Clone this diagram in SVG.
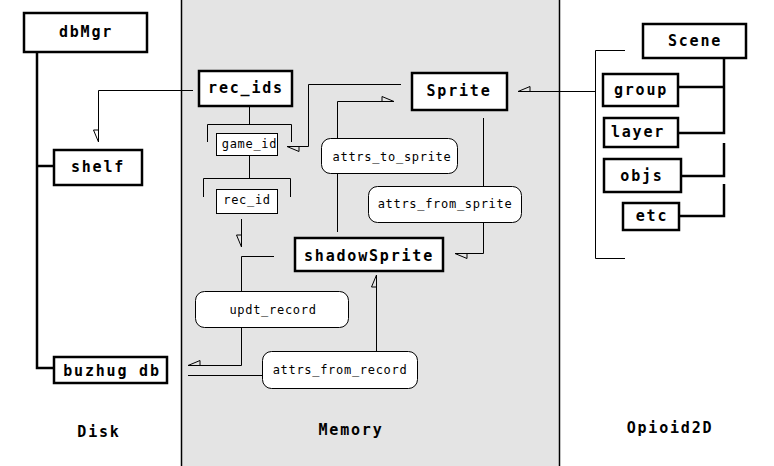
<svg xmlns="http://www.w3.org/2000/svg" width="774" height="466" viewBox="0 0 774 466">
<style>
.bg{fill:#e4e4e4;stroke:none}
.edge{stroke:#000;stroke-width:1.5;fill:none}
.box{fill:#fff;stroke:#000;stroke-width:2.5}
.sbox{fill:#fff;stroke:#000;stroke-width:1}
.rbox{fill:#fff;stroke:#000;stroke-width:1}
.ln{stroke:#000;stroke-width:1;fill:none}
.tk{stroke:#000;stroke-width:2.5;fill:none}
.b{font-family:"DejaVu Sans Mono","Liberation Mono",monospace;font-weight:bold;font-size:15px;letter-spacing:1.8px;text-anchor:middle;fill:#000}
.s{font-family:"DejaVu Sans Mono","Liberation Mono",monospace;font-size:12px;letter-spacing:0.7px;text-anchor:middle;fill:#000}
</style>
<defs>
<marker id="hp" markerUnits="userSpaceOnUse" markerWidth="14" markerHeight="14" viewBox="-13 -7 14 14" refX="0" refY="0" orient="auto" overflow="visible">
<path d="M0,0 L-12,0 L-12,5 Z" fill="none" stroke="#000" stroke-width="1"/>
</marker>
<marker id="hn" markerUnits="userSpaceOnUse" markerWidth="14" markerHeight="14" viewBox="-13 -7 14 14" refX="0" refY="0" orient="auto" overflow="visible">
<path d="M0,0 L-12,0 L-12,-5 Z" fill="none" stroke="#000" stroke-width="1"/>
</marker>
</defs>
<rect x="0" y="0" width="774" height="466" fill="#fff"/>
<rect class="bg" x="181" y="0" width="378" height="466"/>
<line class="edge" x1="181.5" y1="0" x2="181.5" y2="466"/>
<line class="edge" x1="559.5" y1="0" x2="559.5" y2="466"/>

<g id="connectors">
<path class="tk" d="M37,52 V368 H54"/>
<path class="tk" d="M37,166 H54"/>
<path class="ln" d="M193,90.5 H98.5 V142" marker-end="url(#hp)"/>
<path class="ln" d="M249.5,106 V124.5"/>
<path class="ln" d="M207.5,142 V124.5 H291.5 V142"/>
<path class="ln" d="M249.5,155 V178.5"/>
<path class="ln" d="M203.5,197 V178.5 H290.5 V197"/>
<path class="ln" d="M241.5,219 V247" marker-end="url(#hp)"/>
<path class="ln" d="M401,84.5 H308.5 V146.5 H287" marker-end="url(#hn)"/>
<path class="ln" d="M337.5,232 V101.5 H394" marker-end="url(#hn)"/>
<path class="ln" d="M483.5,118 V253.5 H455" marker-end="url(#hn)"/>
<path class="ln" d="M595,91.5 H518" marker-end="url(#hp)"/>
<path class="ln" d="M625,50.5 H595.5 V258.5 H625"/>
<path class="tk" d="M724,58 V133 H678"/>
<path class="tk" d="M678,87 H724"/>
<path class="tk" d="M724,143 V176 H681"/>
<path class="tk" d="M724,184 V216 H679"/>
<path class="ln" d="M274,256.5 H241.5 V365.5 H188" marker-end="url(#hp)"/>
<path class="ln" d="M262,375.5 H188"/>
<path class="ln" d="M376.5,351 V275" marker-end="url(#hn)"/>
</g>

<g id="dbMgr"><rect class="box" x="24" y="13" width="123" height="39"/><text class="b" x="86" y="37">dbMgr</text></g>
<g id="shelf"><rect class="box" x="54" y="150" width="88" height="35"/><text class="b" x="98" y="172">shelf</text></g>
<g id="buzhug_db"><rect class="box" x="54" y="357" width="113" height="26"/><text class="b" x="112" y="376">buzhug db</text></g>

<g id="rec_ids"><rect class="box" x="199" y="71" width="93" height="35"/><text class="b" x="246" y="93">rec_ids</text></g>
<g id="game_id"><rect class="sbox" x="216.5" y="133.5" width="61" height="22"/><text class="s" x="249.5" y="148">game_id</text></g>
<g id="rec_id"><rect class="sbox" x="216.5" y="189.5" width="61" height="24"/><text class="s" x="247" y="204">rec_id</text></g>

<g id="Sprite"><rect class="box" x="412" y="73" width="95" height="37"/><text class="b" x="459" y="96">Sprite</text></g>
<g id="attrs_to_sprite"><rect class="rbox" x="321.5" y="138.5" width="136" height="35" rx="9"/><text class="s" x="392" y="161">attrs_to_sprite</text></g>
<g id="attrs_from_sprite"><rect class="rbox" x="368.5" y="186.5" width="153" height="36" rx="9"/><text class="s" x="445" y="208">attrs_from_sprite</text></g>
<g id="shadowSprite"><rect class="box" x="295" y="238" width="148" height="33"/><text class="b" x="369" y="261">shadowSprite</text></g>
<g id="updt_record"><rect class="rbox" x="195.5" y="291.5" width="153" height="36" rx="9"/><text class="s" x="273" y="314">updt_record</text></g>
<g id="attrs_from_record"><rect class="rbox" x="262.5" y="351.5" width="155" height="37" rx="9"/><text class="s" x="340" y="374">attrs_from_record</text></g>

<g id="Scene"><rect class="box" x="643" y="24" width="103" height="34"/><text class="b" x="695" y="46">Scene</text></g>
<g id="group"><rect class="box" x="603" y="74" width="75" height="32"/><text class="b" x="641" y="95">group</text></g>
<g id="layer"><rect class="box" x="604" y="118" width="74" height="29"/><text class="b" x="638" y="137">layer</text></g>
<g id="objs"><rect class="box" x="604" y="159" width="77" height="33"/><text class="b" x="642" y="181">objs</text></g>
<g id="etc"><rect class="box" x="623" y="203" width="56" height="27"/><text class="b" x="652" y="221">etc</text></g>

<g id="labels">
<text class="b" x="99" y="437">Disk</text>
<text class="b" x="351" y="435">Memory</text>
<text class="b" x="670" y="433">Opioid2D</text>
</g>
</svg>
